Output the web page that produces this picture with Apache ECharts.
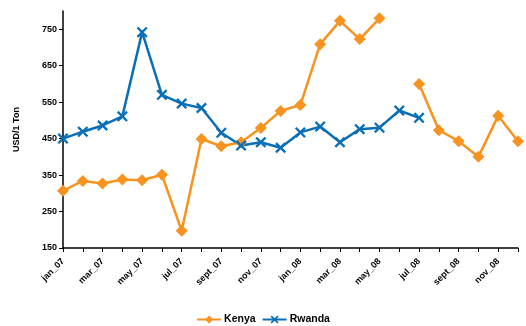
<!DOCTYPE html>
<html><head><meta charset="utf-8">
<script src="https://cdn.jsdelivr.net/npm/echarts@6/dist/echarts.min.js"></script>
<style>html,body{margin:0;padding:0;background:#fff}#c{width:526px;height:326px}</style>
</head><body><div id="c"></div>
<script>
const categories = ['jan_07','feb_07','mar_07','apr_07','may_07','jun_07','jul_07','aug_07','sept_07','oct_07','nov_07','dec_07',
  'jan_08','feb_08','mar_08','apr_08','may_08','jun_08','jul_08','aug_08','sept_08','oct_08','nov_08','dec_08'];
const kenya = [307,334,327,338,336,351,197,449,429,440,479,526,542,709,773,723,780,null,600,473,443,400,513,443];
const rwanda = [450,469,486,511,742,570,546,534,466,431,440,425,467,483,440,476,480,527,507,null,null,null,null,null];
const yTicks = [150,250,350,450,550,650,750];

const orange = '#F7931E', blue = '#0A6FB8';
const xPath = 'path://M0,1.5 L1.5,0 L5,3.5 L8.5,0 L10,1.5 L6.5,5 L10,8.5 L8.5,10 L5,6.5 L1.5,10 L0,8.5 L3.5,5 Z';
const font = 'Liberation Sans';
const chart = echarts.init(document.getElementById('c'), null, {renderer:'canvas'});
chart.setOption({
  animation:false,
  grid:{left:63, right:8, top:11, bottom:78, containLabel:false},
  legend:{
    top:309, left:'center', itemWidth:24, itemHeight:10, itemGap:6,
    textStyle:{fontFamily:font, fontWeight:'bold', fontSize:10.5, color:'#000', padding:[0,0,0,-2]},
    data:[{name:'Kenya'},{name:'Rwanda'}]
  },
  xAxis:{
    type:'category', data:categories, boundaryGap:false,
    axisLine:{lineStyle:{color:'#000', width:1.5}},
    axisTick:{show:true, interval:0, length:4, lineStyle:{color:'#000'}},
    axisLabel:{interval:1, rotate:45, fontFamily:font, fontWeight:'bold', fontSize:9, color:'#000', margin:12},
    splitLine:{show:false}
  },
  yAxis:{
    type:'value', min:150, max:800, interval:100,
    name:'USD/1 Ton', nameLocation:'middle', nameGap:42, nameRotate:90,
    nameTextStyle:{fontFamily:font, fontWeight:'bold', fontSize:9, color:'#000'},
    axisLine:{show:true, lineStyle:{color:'#000', width:1.5}},
    axisTick:{show:true, length:4, lineStyle:{color:'#000'}},
    axisLabel:{showMaxLabel:false, fontFamily:font, fontWeight:'bold', fontSize:9, color:'#000', margin:6,
      formatter: v => yTicks.indexOf(v) >= 0 ? String(v) : ''},
    splitLine:{show:false}
  },
  series:[
    {name:'Kenya', type:'line', data:kenya, connectNulls:false,
     symbol:'diamond', symbolSize:12, showAllSymbol:true,
     lineStyle:{color:orange, width:2.5}, itemStyle:{color:orange}},
    {name:'Rwanda', type:'line', data:rwanda, connectNulls:false,
     symbol:xPath, symbolSize:11, showAllSymbol:true,
     lineStyle:{color:blue, width:2.5}, itemStyle:{color:blue}}
  ]
});
</script></body></html>
